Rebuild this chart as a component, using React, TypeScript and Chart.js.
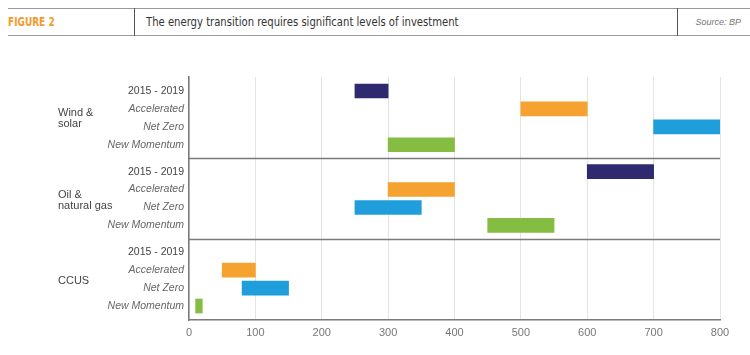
import React, { useEffect, useRef } from "react";
import { Chart, registerables } from "chart.js";

Chart.register(...registerables);

const GROUP_LINES: string[][] = [["Wind &", "solar"], ["Oil &", "natural gas"], ["CCUS"]];
const SCENARIOS = ["2015 - 2019", "Accelerated", "Net Zero", "New Momentum"];

// [low, high] per group: Wind & solar, Oil & natural gas, CCUS
const HIST_LOW: (number | null)[] = [250, 600, null];
const HIST_HIGH: (number | null)[] = [300, 700, null];
const ACC_LOW = [500, 300, 50];
const ACC_HIGH = [600, 400, 100];
const NZ_LOW = [700, 250, 80];
const NZ_HIGH = [800, 350, 150];
const NM_LOW = [300, 450, 10];
const NM_HIGH = [400, 550, 20];

const X_MIN = 0;
const X_MAX = 800;
const X_STEP = 100;

const COLORS = ["#2f2a70", "#f5a230", "#1f9edb", "#84bd41"];

const GROUP_GAP = 4.5;
const pos = (g: number, r: number) => g * GROUP_GAP + r;

function buildData(low: (number | null)[], high: (number | null)[], r: number) {
  const out: { x: [number, number]; y: number }[] = [];
  low.forEach((l, g) => {
    const h = high[g];
    if (l != null && h != null) out.push({ x: [l, h], y: pos(g, r) });
  });
  return out;
}

const TICK_POSITIONS: number[] = [];
const TICK_LABELS: string[] = [];
GROUP_LINES.forEach((_, g) => {
  SCENARIOS.forEach((s, r) => {
    TICK_POSITIONS.push(pos(g, r));
    TICK_LABELS.push(s);
  });
});

const FONT = "'Liberation Sans', Arial, sans-serif";
const NARROW = "'Liberation Sans Narrow', 'DejaVu Sans Condensed', 'Roboto Condensed', 'Liberation Sans', sans-serif";

const overlayPlugin = {
  id: "overlay",
  beforeDatasetsDraw(chart: any) {
    const { ctx, chartArea, scales } = chart;
    const y = scales.y;
    ctx.save();
    ctx.strokeStyle = "#7a7a7a";
    ctx.lineWidth = 1.5;
    for (let g = 1; g < GROUP_LINES.length; g++) {
      const v = (pos(g - 1, 3) + pos(g, 0)) / 2;
      const py = Math.round(y.getPixelForValue(v)) + 0.5;
      ctx.beginPath();
      ctx.moveTo(chartArea.left, py);
      ctx.lineTo(chartArea.right, py);
      ctx.stroke();
    }
    ctx.restore();
  },
  afterDraw(chart: any) {
    const { ctx, scales } = chart;
    const y = scales.y;
    ctx.save();
    ctx.fillStyle = "#444";
    ctx.font = `11px ${FONT}`;
    ctx.textAlign = "left";
    ctx.textBaseline = "middle";
    GROUP_LINES.forEach((lines, g) => {
      const c = y.getPixelForValue(pos(g, 1.5));
      const lh = 11;
      lines.forEach((t, i) => {
        const off = (i - (lines.length - 1) / 2) * lh;
        ctx.fillText(t, 58, c + off + (g === 0 ? 0.5 : 2));
      });
    });
    ctx.restore();
  },
};

export default function App() {
  const ref = useRef<HTMLCanvasElement>(null);
  useEffect(() => {
    if (!ref.current) return;
    const series = [
      buildData(HIST_LOW, HIST_HIGH, 0),
      buildData(ACC_LOW, ACC_HIGH, 1),
      buildData(NZ_LOW, NZ_HIGH, 2),
      buildData(NM_LOW, NM_HIGH, 3),
    ];
    const chart = new Chart(ref.current, {
      type: "bar",
      data: {
        datasets: series.map((d, i) => ({
          label: SCENARIOS[i],
          data: d as any,
          backgroundColor: COLORS[i],
          borderWidth: 0,
          barThickness: 14,
          grouped: false,
        })),
      },
      options: {
        indexAxis: "y",
        animation: false,
        responsive: true,
        maintainAspectRatio: false,
        layout: { padding: { left: 0, top: 77, right: 30, bottom: 0 } },
        plugins: { legend: { display: false }, tooltip: { enabled: false } },
        scales: {
          x: {
            type: "linear",
            min: X_MIN,
            max: X_MAX,
            ticks: {
              stepSize: X_STEP,
              color: "#777",
              font: { size: 11, family: FONT },
              padding: 6,
            },
            grid: { color: "#e3e3e3", lineWidth: 1, drawTicks: false },
            border: { display: true, color: "#7a7a7a", width: 1.5 },
            afterFit: (s: any) => {
              s.height = 35;
            },
          },
          y: {
            type: "linear",
            reverse: true,
            offset: false,
            min: -0.78,
            max: pos(GROUP_LINES.length - 1, 3) + 0.78,
            afterBuildTicks: (s: any) => {
              s.ticks = TICK_POSITIONS.map((v) => ({ value: v }));
            },
            ticks: {
              autoSkip: false,
              padding: 5,
              callback: (_v: any, i: number) => TICK_LABELS[i],
              color: (c: any) => (c.index % 4 === 0 ? "#444" : "#666"),
              font: (c: any) => ({
                size: 10.5,
                family: FONT,
                style: c.index % 4 === 0 ? "normal" : "italic",
              }),
            },
            grid: { display: false, drawTicks: false, offset: false },
            border: { display: true, color: "#7a7a7a", width: 1.5 },
            afterFit: (s: any) => {
              s.width = 189;
            },
          },
        },
      },
      plugins: [overlayPlugin],
    });
    return () => chart.destroy();
  }, []);

  return (
    <div style={{ position: "absolute", left: 0, top: 0, width: 750, height: 355, background: "#fff" }}>
      <div style={{ position: "absolute", left: 8, right: 0, top: 8, height: 28, borderTop: "1.5px solid #9a9a9a", borderBottom: "1.5px solid #9a9a9a", boxSizing: "border-box" }} />
      <div style={{ position: "absolute", left: 134, top: 8, width: 1, height: 28, background: "#555" }} />
      <div style={{ position: "absolute", left: 677, top: 8, width: 1, height: 28, background: "#555" }} />
      <div style={{ position: "absolute", left: 8, top: 8, height: 28, lineHeight: "28px", fontFamily: NARROW, fontWeight: "bold", fontSize: 12.5, color: "#f39a2d", transform: "scaleX(0.8)", transformOrigin: "left center", whiteSpace: "nowrap" }}>
        FIGURE 2
      </div>
      <div style={{ position: "absolute", left: 146, top: 8, height: 28, lineHeight: "28px", fontFamily: NARROW, fontSize: 13, color: "#333", transform: "scaleX(0.86)", transformOrigin: "left center", whiteSpace: "nowrap" }}>
        The energy transition requires significant levels of investment
      </div>
      <div style={{ position: "absolute", right: 9, top: 8, height: 28, lineHeight: "28px", fontFamily: FONT, fontStyle: "italic", fontSize: 9, color: "#777" }}>
        Source: BP
      </div>
      <div style={{ position: "absolute", left: 0, top: 0, width: 750, height: 355 }}>
        <canvas ref={ref} />
      </div>
    </div>
  );
}
